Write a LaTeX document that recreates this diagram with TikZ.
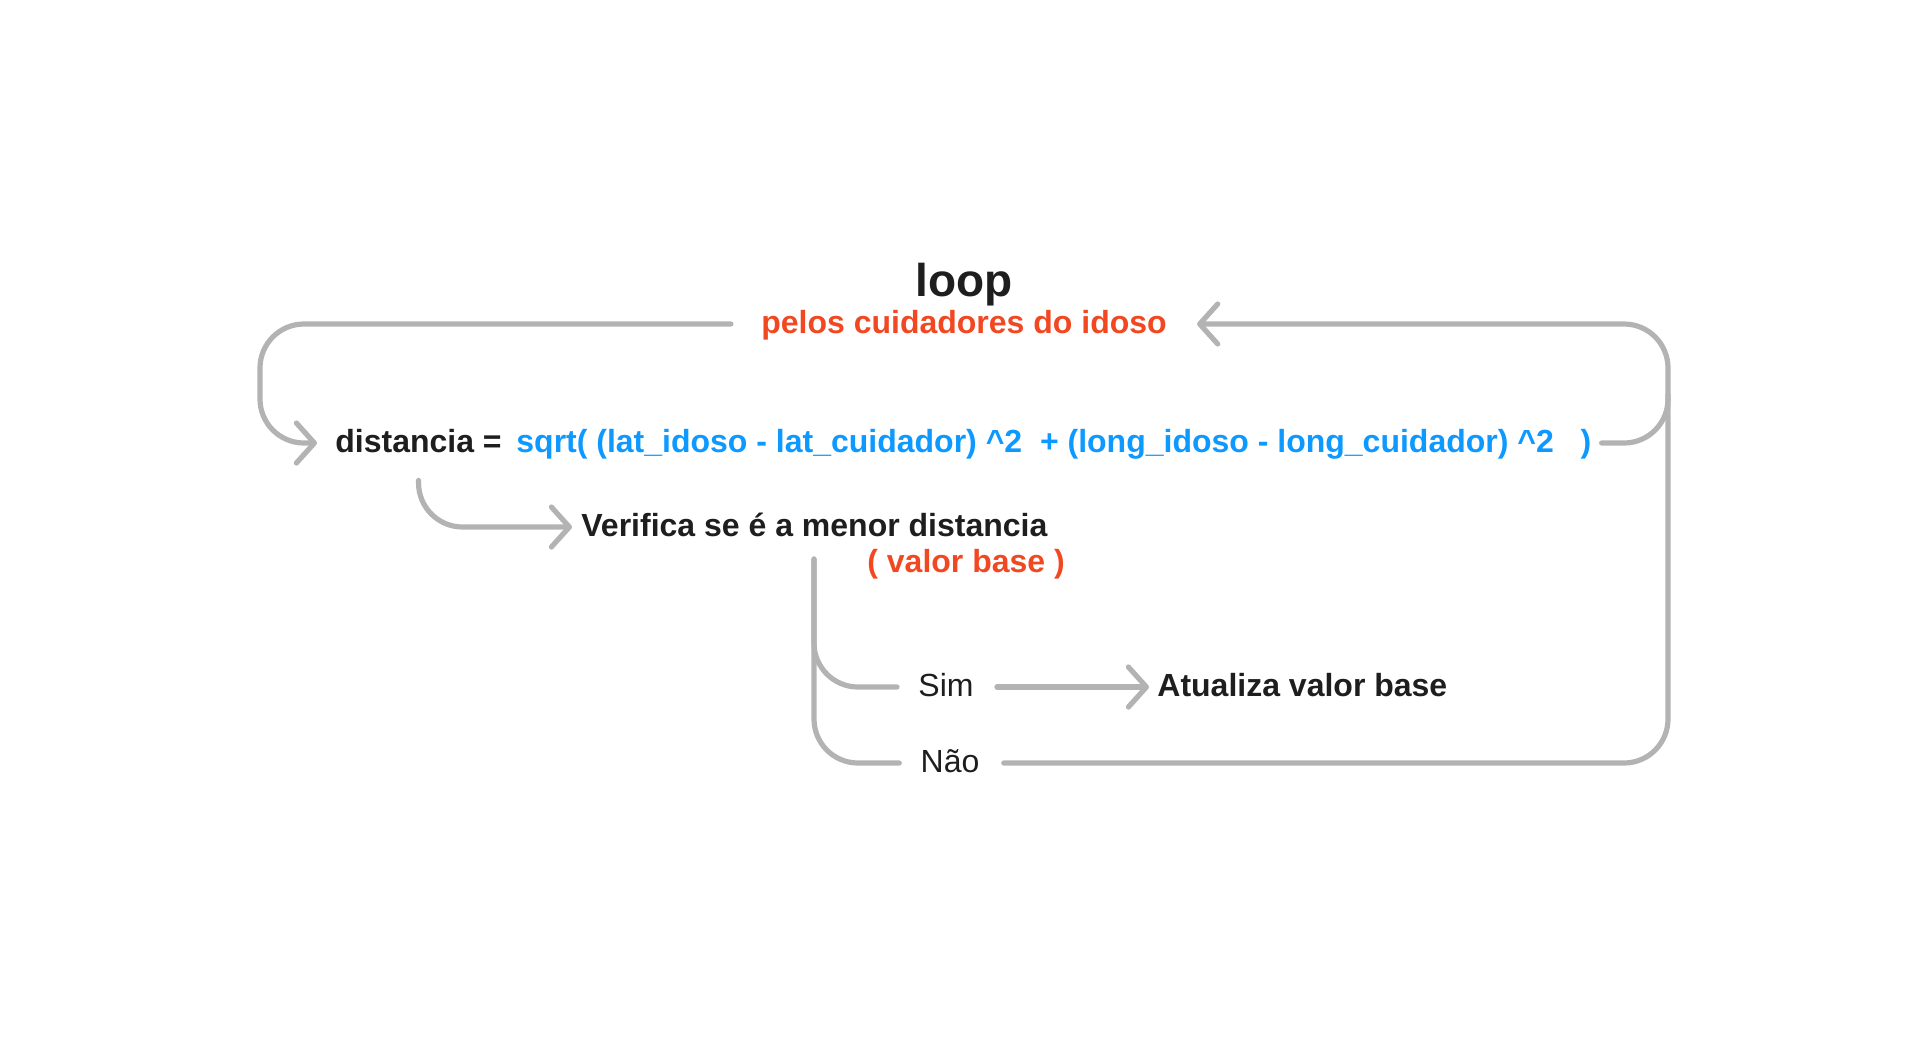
\documentclass[tikz,border=0pt]{standalone}
\usepackage{fontspec}
\setmainfont{Liberation Sans}
\usetikzlibrary{arrows.meta,calc,positioning}
\definecolor{cinza}{HTML}{B3B3B3}
\definecolor{escuro}{HTML}{1E1E1E}
\definecolor{laranja}{HTML}{F24822}
\definecolor{azul}{HTML}{0D99FF}
\tikzset{%
	texto/.style    = {inner sep=0pt, text height=0.9em, text depth=0pt, text=escuro, font=\fontsize{16pt}{19pt}\selectfont\bfseries}, % Texto
	titulo/.style   = {texto, font=\fontsize{23pt}{27pt}\selectfont\bfseries}, % Titulo
	nota/.style     = {texto, text=laranja}, % Nota
	formula/.style  = {texto, text=azul}, % Formula
	opcao/.style    = {texto, font=\fontsize{16pt}{19pt}\selectfont}, % Sim / Nao
	linha/.style    = {draw=cinza, line width=2.6pt, line cap=round, rounded corners=22pt},
	seta/.style     = {linha, -{Straight Barb[length=9pt, width=20pt, round]}},
}

\begin{document}
\begin{tikzpicture}[x=0.5pt, y=-0.5pt]
	\useasboundingbox (0,0) rectangle (1926,1061);
	\node[titulo] (loop) at (964,287) {loop};
	\node[nota] (pelos) at (964,324) {pelos cuidadores do idoso};
	\node[texto, anchor=west] (dist) at (335,443) {distancia =};
	\node[formula, anchor=west] (calc) at (516,443) {sqrt( (lat\_idoso - lat\_cuidador) \textasciicircum2\ \ + (long\_idoso - long\_cuidador) \textasciicircum2\ \ \ )};
	\node[texto, anchor=west] (verifica) at (581,527) {Verifica se é a menor distancia};
	\node[nota, anchor=west] (base) at (867,563) {( valor base )};
	\node[opcao] (sim) at (946,687) {Sim};
	\node[opcao] (nao) at (950,763) {Não};
	\node[texto, anchor=west] (atualiza) at (1157,687) {Atualiza valor base};
	\coordinate (cantoE) at (260,380);
	\coordinate (cantoD) at (1668,380);
	\coordinate (juncao) at (1668,395);
	\coordinate (ramo) at (814,559);
	
	\draw[seta, shorten <=15pt, shorten >=9pt] (pelos.west) -| (cantoE |- dist.west) -- (dist.west);
	\draw[seta, shorten <=5pt, shorten >=15pt] (calc.east) -| (cantoD |- pelos.east) -- (pelos.east);
	\draw[linha, shorten <=12pt] (nao.east) -| (juncao);
	\draw[seta, shorten <=14pt, shorten >=4.5pt] (dist.south) |- (verifica.west);
	\draw[linha, shorten >=10.5pt] (ramo) |- (sim.west);
	\draw[linha, shorten >=10.5pt] (ramo) |- (nao.west);
	\draw[seta, shorten <=11.5pt, shorten >=4pt] (sim) -- (atualiza);
\end{tikzpicture}
\end{document}
